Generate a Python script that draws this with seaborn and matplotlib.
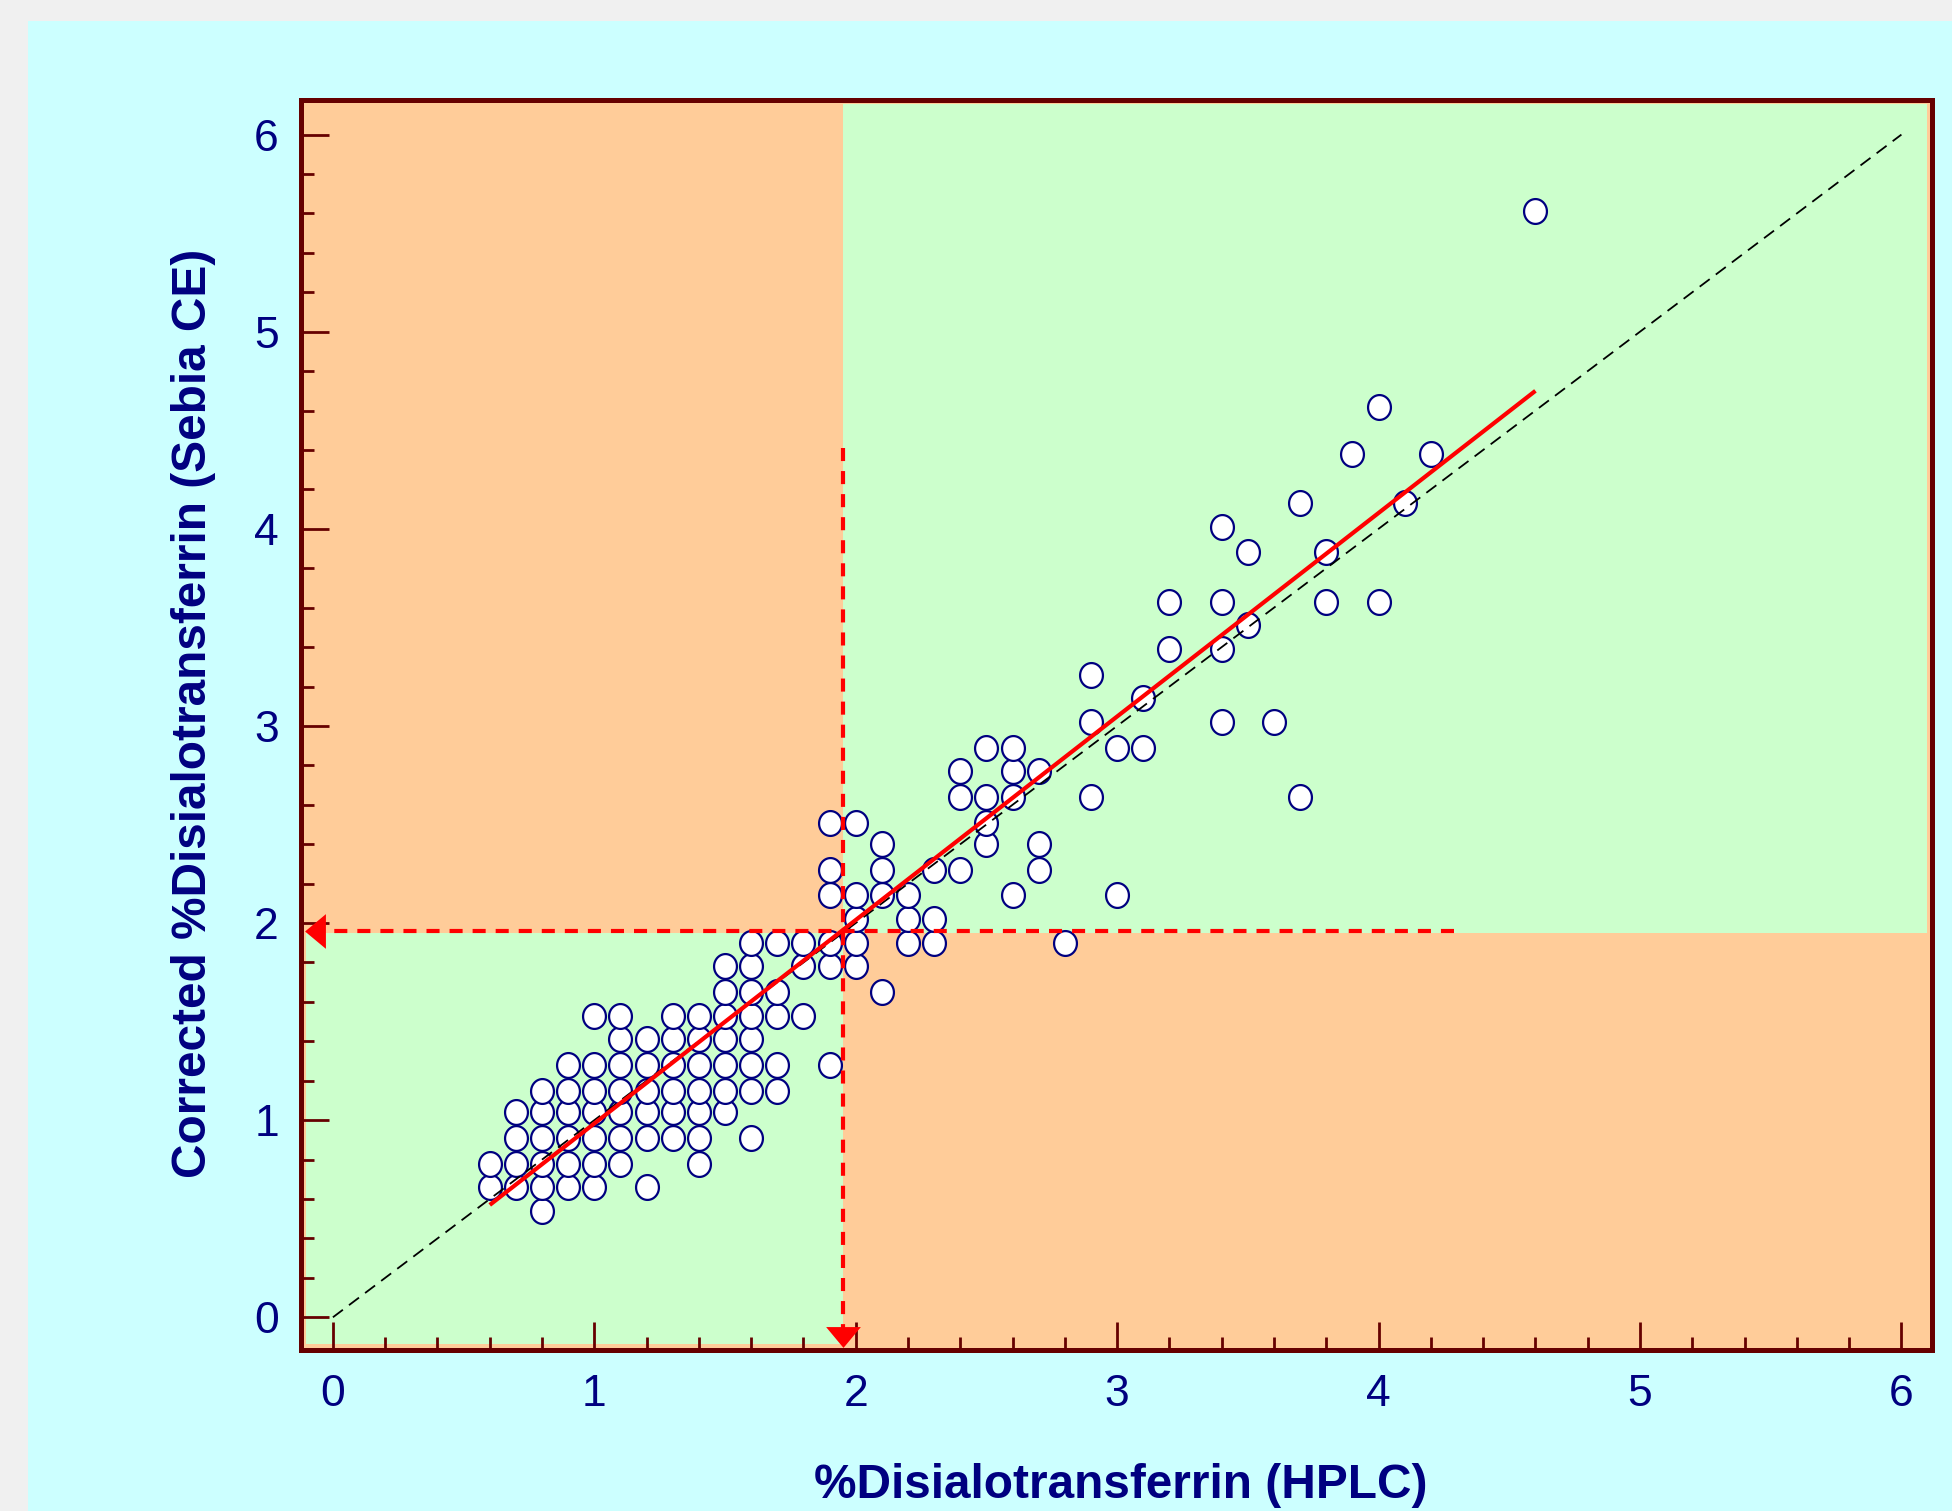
import numpy as np
import matplotlib
matplotlib.use("Agg")
import matplotlib.pyplot as plt
import seaborn as sns
import pandas as pd
from matplotlib.path import Path
from matplotlib.patches import Rectangle
from matplotlib.ticker import MultipleLocator

# ---------------- data ----------------
hplc = [0.6, 0.6,
        0.7, 0.7, 0.7, 0.7,
        0.8, 0.8, 0.8, 0.8, 0.8, 0.8,
        0.9, 0.9, 0.9, 0.9, 0.9, 0.9,
        1.0, 1.0, 1.0, 1.0, 1.0, 1.0, 1.0,
        1.1, 1.1, 1.1, 1.1, 1.1, 1.1, 1.1,
        1.2, 1.2, 1.2, 1.2, 1.2, 1.2,
        1.3, 1.3, 1.3, 1.3, 1.3, 1.3,
        1.4, 1.4, 1.4, 1.4, 1.4, 1.4, 1.4,
        1.5, 1.5, 1.5, 1.5, 1.5, 1.5, 1.5,
        1.6, 1.6, 1.6, 1.6, 1.6, 1.6, 1.6, 1.6,
        1.7, 1.7, 1.7, 1.7, 1.7,
        1.8, 1.8, 1.8,
        1.9, 1.9, 1.9, 1.9, 1.9, 1.9,
        2.0, 2.0, 2.0, 2.0, 2.0,
        2.1, 2.1, 2.1, 2.1,
        2.2, 2.2, 2.2,
        2.3, 2.3, 2.3,
        2.4, 2.4, 2.4,
        2.5, 2.5, 2.5, 2.5,
        2.6, 2.6, 2.6, 2.6,
        2.7, 2.7, 2.7,
        2.8,
        2.9, 2.9, 2.9,
        3.0, 3.0,
        3.1, 3.1,
        3.2, 3.2,
        3.4, 3.4, 3.4, 3.4,
        3.5, 3.5,
        3.6,
        3.7, 3.7,
        3.8, 3.8,
        3.9,
        4.0, 4.0,
        4.1,
        4.2,
        4.6]
sebia_ce = [0.66, 0.78,
            0.66, 0.78, 0.91, 1.04,
            0.54, 0.66, 0.78, 0.91, 1.04, 1.15,
            0.66, 0.78, 0.91, 1.04, 1.15, 1.28,
            0.66, 0.78, 0.91, 1.04, 1.15, 1.28, 1.53,
            0.78, 0.91, 1.04, 1.15, 1.28, 1.41, 1.53,
            0.66, 0.91, 1.04, 1.15, 1.28, 1.41,
            0.91, 1.04, 1.15, 1.28, 1.41, 1.53,
            0.78, 0.91, 1.04, 1.15, 1.28, 1.41, 1.53,
            1.04, 1.15, 1.28, 1.41, 1.53, 1.65, 1.78,
            0.91, 1.15, 1.28, 1.41, 1.53, 1.65, 1.78, 1.90,
            1.15, 1.28, 1.53, 1.65, 1.90,
            1.53, 1.78, 1.90,
            1.28, 1.78, 1.90, 2.14, 2.27, 2.51,
            1.78, 1.90, 2.02, 2.14, 2.51,
            1.65, 2.14, 2.27, 2.40,
            1.90, 2.02, 2.14,
            1.90, 2.02, 2.27,
            2.27, 2.64, 2.77,
            2.40, 2.51, 2.64, 2.89,
            2.14, 2.64, 2.77, 2.89,
            2.27, 2.40, 2.77,
            1.90,
            2.64, 3.02, 3.26,
            2.14, 2.89,
            2.89, 3.14,
            3.39, 3.63,
            3.02, 3.39, 3.63, 4.01,
            3.51, 3.88,
            3.02,
            2.64, 4.13,
            3.63, 3.88,
            4.38,
            3.63, 4.62,
            4.13,
            4.38,
            5.61]

fit_x = [0.6, 4.6]          # regression line end points
fit_y = [0.57, 4.70]
identity = [0.0, 6.0]       # line of identity
cutoff_x = 1.95             # HPLC cut-off
cutoff_y = 1.96             # corrected CE cut-off
vline_top = 4.41
hline_right = 4.29

x_ticks = [0, 1, 2, 3, 4, 5, 6]
y_ticks = [0, 1, 2, 3, 4, 5, 6]
x_label = "%Disialotransferrin (HPLC)"
y_label = "Corrected %Disialotransferrin (Sebia CE)"

# ---------------- style ----------------
sns.set_style("ticks")
plt.rcParams["font.family"] = ["Liberation Sans", "DejaVu Sans"]
plt.rcParams["lines.scale_dashes"] = False

NAVY = "#000080"
DARKRED = "#660000"
PEACH = "#ffcc99"
GREEN = "#ccffcc"
CYAN = "#ccffff"
RED = "#ff0000"

W, H = 1952, 1511
fig = plt.figure(figsize=(W / 100, H / 100), dpi=100, facecolor="#f0f0f0")
fig.add_artist(Rectangle((28 / W, 0), 1 - 28 / W, 1 - 21 / H,
                         transform=fig.transFigure, facecolor=CYAN,
                         edgecolor="none", zorder=0))

ax = fig.add_axes([300.5 / W, 1 - 1350 / H, 1631.5 / W, 1250.5 / H])
ax.set_facecolor(PEACH)
xmin, xmax = -0.124, 6.117
ymin, ymax = -0.166, 6.178
ax.set_xlim(xmin, xmax)
ax.set_ylim(ymin, ymax)

# green concordance zones
ax.add_patch(Rectangle((-0.103, -0.136), cutoff_x + 0.103, 1.95 + 0.136,
                       facecolor=GREEN, edgecolor="none", zorder=0.5))
ax.add_patch(Rectangle((cutoff_x, 1.95), 6.098 - cutoff_x, 6.154 - 1.95,
                       facecolor=GREEN, edgecolor="none", zorder=0.5))

# scatter (slightly elliptical open circles)
t = np.linspace(0, 2 * np.pi, 73)
ell = Path(np.column_stack([0.46 * np.cos(t), 0.5 * np.sin(t)]), closed=True)
df = pd.DataFrame({"hplc": hplc, "ce": sebia_ce})
sns.scatterplot(data=df, x="hplc", y="ce", ax=ax, marker=ell, s=320,
                color="white", edgecolor=NAVY, linewidth=1.6, zorder=2,
                legend=False)

# identity line
ax.plot(identity, identity, color="black", lw=1.3,
        linestyle=(0, (9, 5.5)), zorder=3)
# regression line
ax.plot(fit_x, fit_y, color=RED, lw=3.0, zorder=4, solid_capstyle="butt")

# cut-off dashed lines with arrowheads
red_dash = (0, (9.4, 7.2))
ax.plot([cutoff_x, cutoff_x], [vline_top, -0.061], color=RED, lw=3.0,
        linestyle=red_dash, zorder=4)
ax.plot([hline_right, -0.041], [cutoff_y, cutoff_y], color=RED, lw=3.0,
        linestyle=red_dash, zorder=4)
tri_down = Path([(0, -0.3), (-0.5, 0.3), (0.5, 0.3), (0, -0.3)], closed=True)
tri_left = Path([(-0.3, 0), (0.3, 0.5), (0.3, -0.5), (-0.3, 0)], closed=True)
ax.plot([cutoff_x], [-0.101], marker=tri_down, markersize=25, color=RED,
        markeredgewidth=0, linestyle="none", zorder=5, clip_on=False)
ax.plot([-0.07], [cutoff_y], marker=tri_left, markersize=25, color=RED,
        markeredgewidth=0, linestyle="none", zorder=5, clip_on=False)

# axes, ticks
for sp in ax.spines.values():
    sp.set_visible(True)
    sp.set_color(DARKRED)
    sp.set_linewidth(3.6)
    sp.set_zorder(6)
ax.set_xticks(x_ticks)
ax.set_yticks(y_ticks)
ax.set_xticklabels([str(v) for v in x_ticks])
ax.set_yticklabels([str(v) for v in y_ticks])
ax.xaxis.set_minor_locator(MultipleLocator(0.2))
ax.yaxis.set_minor_locator(MultipleLocator(0.2))
ax.tick_params(which="major", direction="in", length=20, width=2,
               color=DARKRED, labelsize=32, labelcolor=NAVY,
               top=False, right=False)
ax.tick_params(which="minor", direction="in", length=9.5, width=2,
               color=DARKRED, top=False, right=False)
ax.tick_params(axis="x", which="major", pad=17.5)
ax.tick_params(axis="y", which="major", pad=15.5)
ax.set_xlabel("")
ax.set_ylabel("")

fig.text(1121 / W, 13 / H, x_label, ha="center", va="baseline",
         fontsize=34.4, fontweight="bold", color=NAVY)
fig.text(194 / W, 1 - 713 / H, y_label, ha="center", va="center",
         rotation=90, fontsize=34.4, fontweight="bold", color=NAVY)

fig.savefig("out.png", dpi=100, facecolor=fig.get_facecolor())
